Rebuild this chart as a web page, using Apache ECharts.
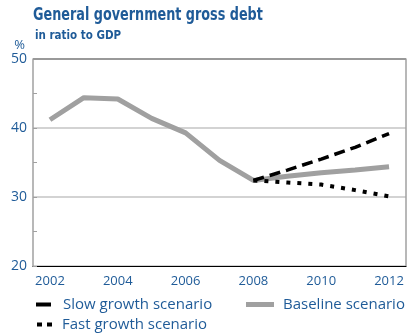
<!DOCTYPE html>
<html><head><meta charset="utf-8">
<script src="https://cdn.jsdelivr.net/npm/echarts@6/dist/echarts.min.js"></script>
<style>html,body{margin:0;padding:0;background:#fff}#c{width:407px;height:336px}</style>
</head><body><div id="c"></div>
<script>
const years = ['2002','2003','2004','2005','2006','2007','2008','2009','2010','2011','2012'];
const baseline = [41.2, 44.4, 44.2, 41.4, 39.3, 35.3, 32.4, 33.0, 33.5, 33.9, 34.4];
const slowGrowth = [null, null, null, null, null, null, 32.4, 33.9, 35.5, 37.2, 39.2];
const fastGrowth = [null, null, null, null, null, null, 32.4, 32.1, 31.8, 31.0, 30.1];
const yTicks = [20, 30, 40, 50];

const blue = '#1f5b98';
const condensed = "'DejaVu Sans Condensed', 'Roboto'";
const chart = echarts.init(document.getElementById('c'), null, {renderer: 'canvas'});
const legendText = (pad) => ({color: blue, fontSize: 15, fontFamily: 'Open Sans', padding: [0, 0, 0, pad]});
chart.setOption({
  animation: false,
  grid: {left: 33, right: 1, top: 59, bottom: 70},
  legend: [
    {left: 36, top: 297, padding: 0, itemWidth: 15, itemHeight: 4, textStyle: legendText(7),
     data: [{name: 'Slow growth scenario', icon: 'rect', itemStyle: {color: '#000'}}]},
    {left: 246, top: 297, padding: 0, itemWidth: 28, itemHeight: 5, textStyle: legendText(4),
     data: [{name: 'Baseline scenario', icon: 'rect', itemStyle: {color: '#a0a0a0'}}]},
    {left: 37, top: 317, padding: 0, itemWidth: 15, itemHeight: 4, textStyle: legendText(5),
     data: [{name: 'Fast growth scenario', icon: 'path://M0,0h5v4h-5z M10,0h5v4h-5z', itemStyle: {color: '#000'}}]}
  ],
  xAxis: {
    type: 'category', data: years, boundaryGap: true,
    axisLine: {lineStyle: {color: '#000', width: 1}},
    axisTick: {inside: true, length: 4, interval: 0, lineStyle: {color: '#000'}},
    axisLabel: {interval: 1, color: blue, fontSize: 13, fontFamily: 'Open Sans', margin: 9},
    splitLine: {show: false}
  },
  yAxis: [{
    type: 'value', min: yTicks[0], max: yTicks[yTicks.length - 1], interval: 10,
    name: '%', nameLocation: 'end', nameGap: 2,
    nameTextStyle: {color: blue, fontSize: 13, fontFamily: 'Open Sans', align: 'right', padding: [0, 8, 0, 0]},
    axisLine: {show: true, lineStyle: {color: '#a0a0a0', width: 1.5}},
    axisTick: {show: true, inside: true, length: 4, lineStyle: {color: '#a0a0a0'}},
    minorTick: {show: true, splitNumber: 2, length: 4, lineStyle: {color: '#a0a0a0'}},
    axisLabel: {color: blue, fontSize: 14, fontFamily: 'Open Sans', margin: 6},
    splitLine: {show: true, lineStyle: {color: '#c4c4c4', width: 1.5}}
  }, {
    type: 'value', min: 20, max: 50, position: 'right',
    axisLine: {show: true, lineStyle: {color: '#a0a0a0', width: 1.5}},
    axisTick: {show: false}, axisLabel: {show: false}, splitLine: {show: false}
  }],
  series: [
    {name: 'Baseline scenario', type: 'line', data: baseline, symbol: 'none', z: 3,
     lineStyle: {color: '#a0a0a0', width: 5}},
    {name: 'Slow growth scenario', type: 'line', data: slowGrowth, symbol: 'none', z: 4,
     lineStyle: {color: '#000', width: 3.5, type: [11, 6]}},
    {name: 'Fast growth scenario', type: 'line', data: fastGrowth, symbol: 'none', z: 4,
     lineStyle: {color: '#000', width: 4, type: [4, 7]}}
  ],
  graphic: [
    {type: 'line', shape: {x1: 33, y1: 59, x2: 406, y2: 59}, style: {stroke: '#999', lineWidth: 2}, z: 1},
    {type: 'text', x: 33, y: 6, scaleX: 0.79, style: {text: 'General government gross debt', fill: blue,
      font: "bold 18px " + condensed}},
    {type: 'text', x: 35, y: 29, scaleX: 0.92, style: {text: 'in ratio to GDP', fill: blue,
      font: "bold 12.5px " + condensed}}
  ]
});
</script></body></html>
